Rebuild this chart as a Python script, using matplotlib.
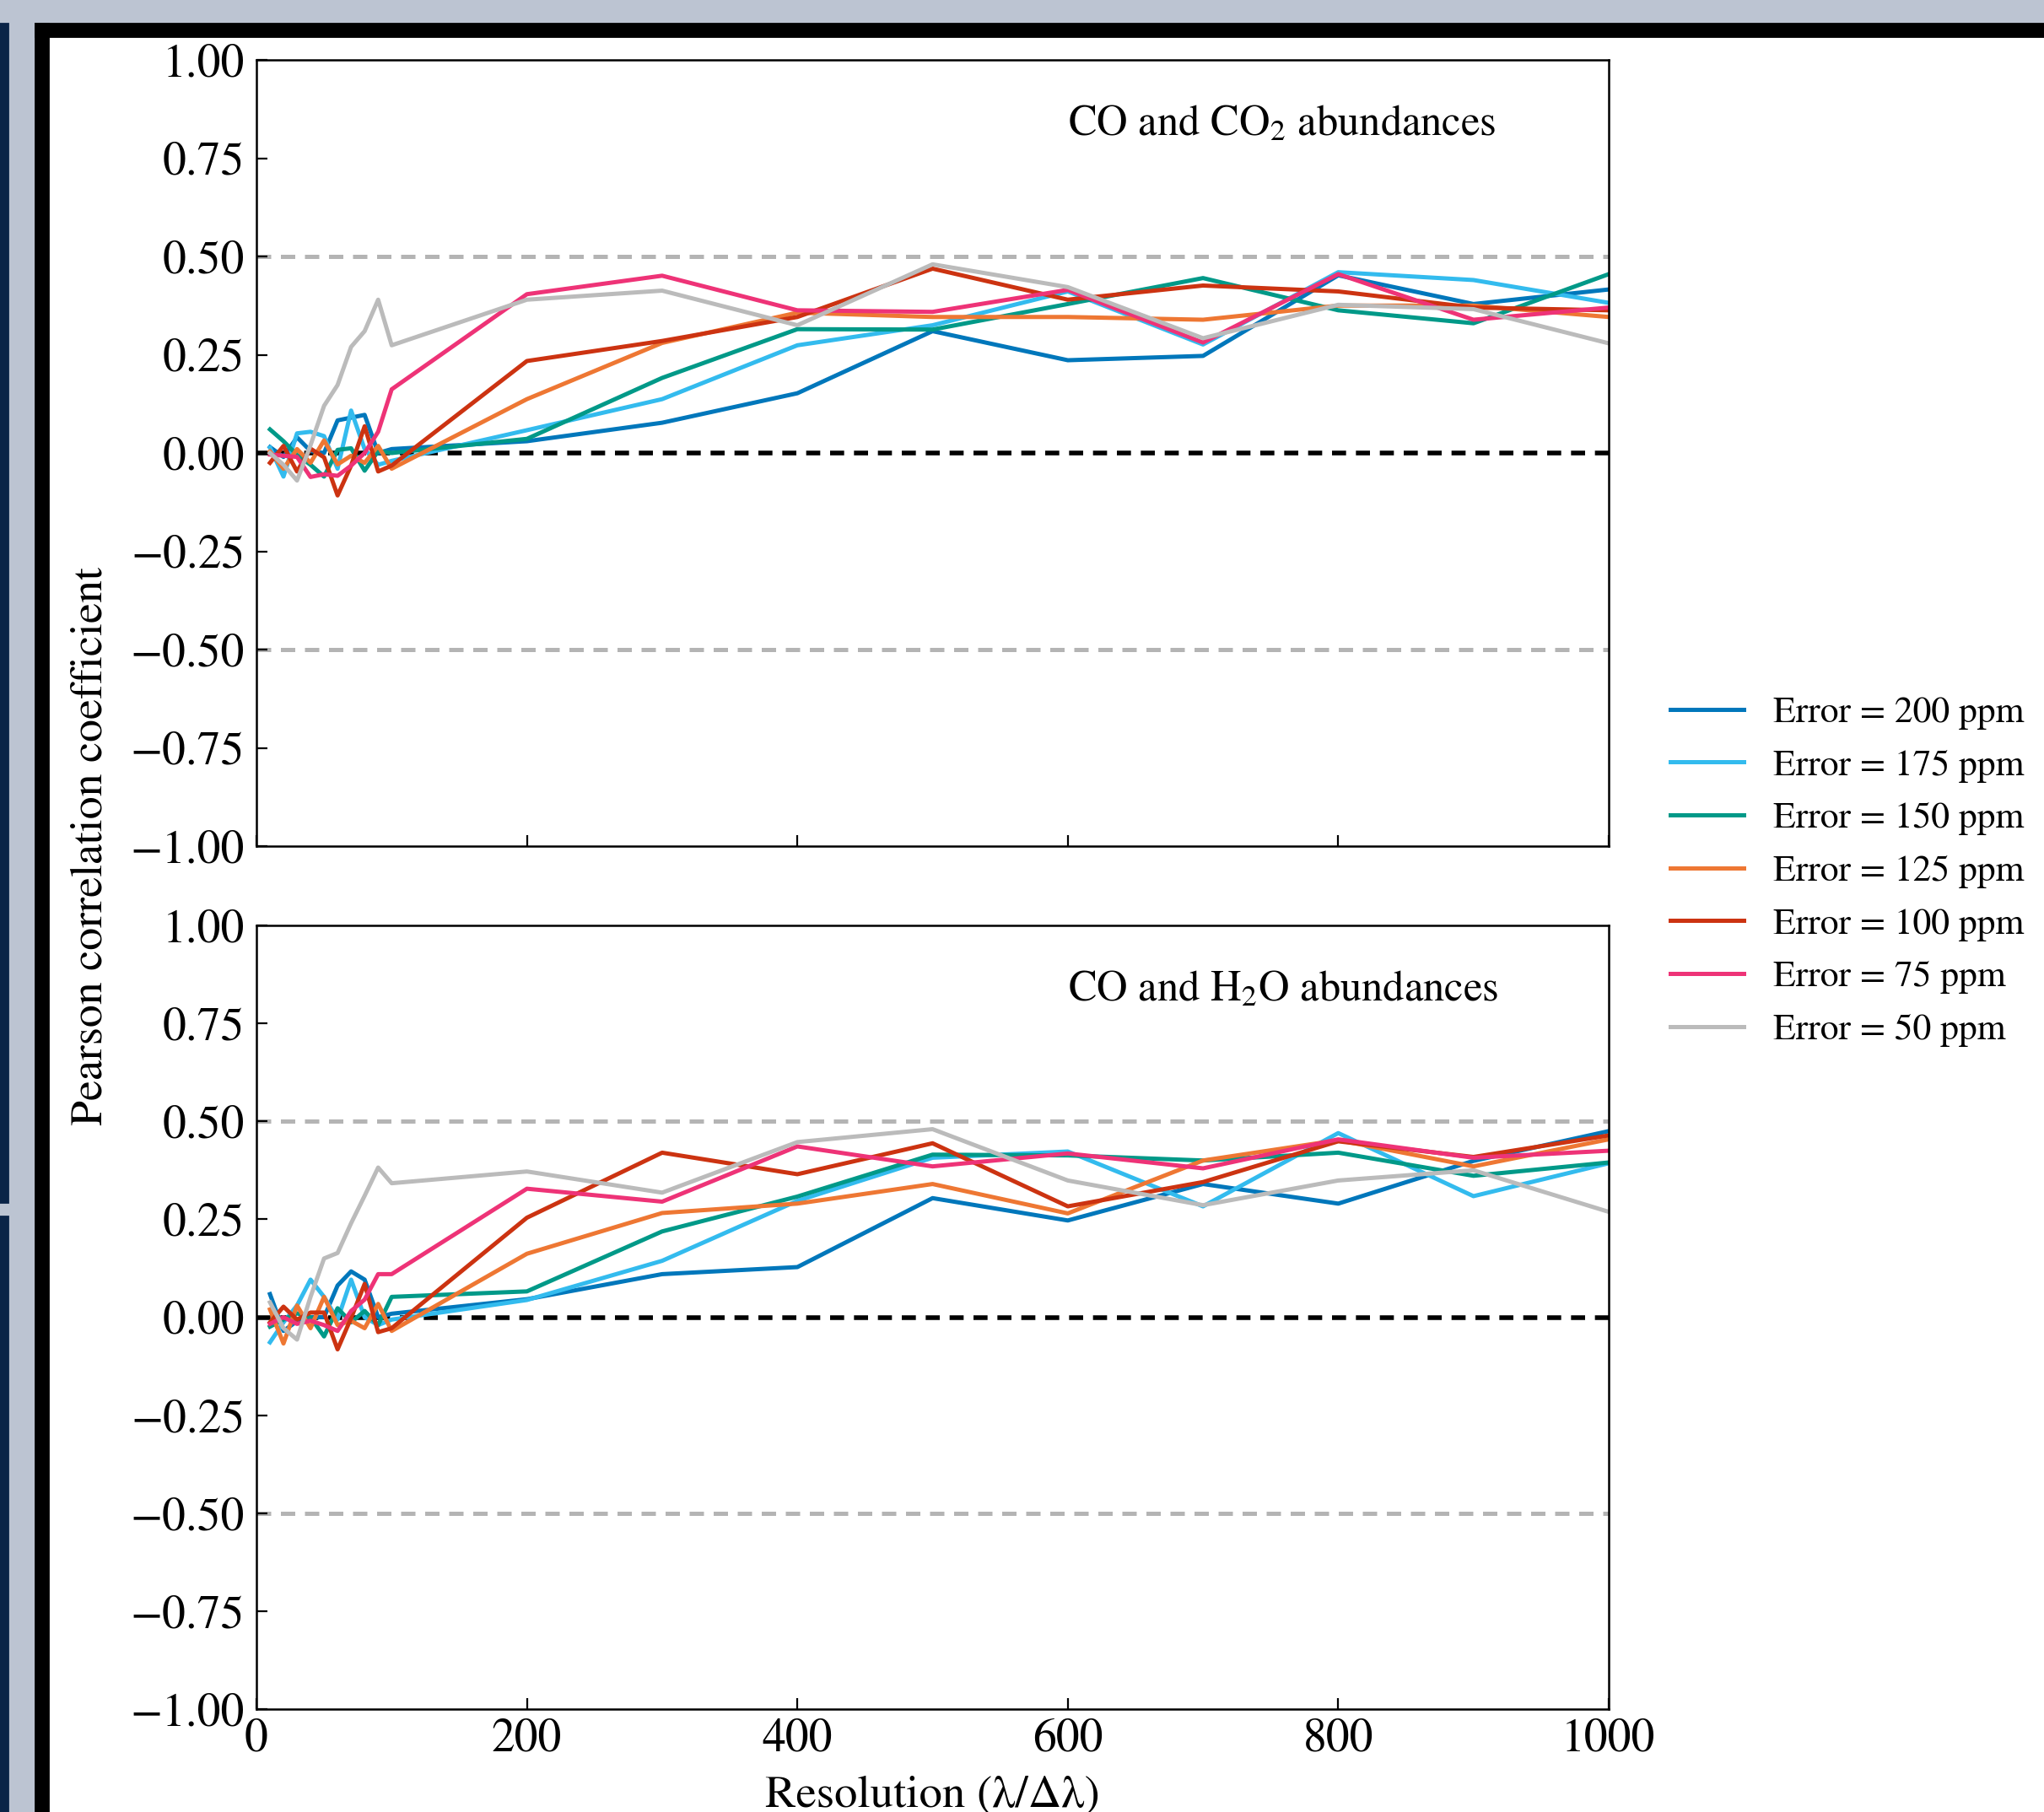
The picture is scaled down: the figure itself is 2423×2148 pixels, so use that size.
import matplotlib
matplotlib.use("Agg")
import matplotlib.pyplot as plt
from matplotlib.patches import Rectangle

plt.rcParams['font.family'] = 'STIXGeneral'
plt.rcParams['mathtext.fontset'] = 'stix'

# ---------------------------- data ----------------------------
resolution = [10, 20, 30, 40, 50, 60, 70, 80, 90, 100,
              200, 300, 400, 500, 600, 700, 800, 900, 1000]

error_labels = ['Error = 200 ppm', 'Error = 175 ppm', 'Error = 150 ppm',
                'Error = 125 ppm', 'Error = 100 ppm', 'Error = 75 ppm',
                'Error = 50 ppm']
colors = ['#0077BB', '#33BBEE', '#009988', '#EE7733', '#CC3311', '#EE3377', '#BBBBBB']

# CO and CO2
co2_200 = [0.015, -0.01, 0.04, 0.005, 0.0, 0.083, 0.09, 0.097, 0.0, 0.01,
           0.03, 0.077, 0.152, 0.31, 0.236, 0.247, 0.452, 0.379, 0.416]
co2_175 = [0.014, -0.06, 0.05, 0.054, 0.043, -0.04, 0.108, 0.01, -0.03, -0.02,
           0.058, 0.137, 0.274, 0.325, 0.411, 0.276, 0.46, 0.44, 0.382]
co2_150 = [0.06, 0.03, -0.005, -0.03, -0.06, 0.008, 0.012, -0.045, 0.005, 0.0,
           0.036, 0.191, 0.315, 0.314, 0.379, 0.445, 0.363, 0.33, 0.455]
co2_125 = [0.004, -0.04, 0.01, -0.025, 0.032, -0.029, -0.007, -0.025, 0.018, -0.04,
           0.137, 0.28, 0.357, 0.346, 0.346, 0.339, 0.375, 0.375, 0.346]
co2_100 = [-0.025, 0.018, -0.047, 0.011, -0.011, -0.108, -0.032, 0.068, -0.047, -0.032,
           0.234, 0.285, 0.346, 0.469, 0.39, 0.426, 0.411, 0.37, 0.363]
co2_75 = [-0.004, -0.007, -0.01, -0.061, -0.054, -0.058, -0.032, 0.0, 0.054, 0.162,
          0.404, 0.451, 0.363, 0.359, 0.415, 0.281, 0.455, 0.339, 0.37]
co2_50 = [0.0, -0.03, -0.07, 0.02, 0.12, 0.173, 0.27, 0.31, 0.39, 0.274,
          0.39, 0.413, 0.325, 0.48, 0.422, 0.292, 0.377, 0.366, 0.279]

# CO and H2O
h2o_200 = [0.059, -0.035, -0.01, 0.0, 0.0, 0.081, 0.117, 0.096, 0.0, 0.009,
           0.046, 0.11, 0.128, 0.304, 0.247, 0.34, 0.29, 0.399, 0.475]
h2o_175 = [-0.064, -0.013, 0.03, 0.096, 0.052, -0.006, 0.096, 0.0, -0.02, -0.006,
           0.044, 0.144, 0.297, 0.407, 0.423, 0.283, 0.47, 0.309, 0.393]
h2o_150 = [-0.024, -0.006, 0.01, 0.0, -0.049, 0.023, -0.013, 0.016, -0.02, 0.052,
           0.066, 0.219, 0.308, 0.415, 0.413, 0.40, 0.42, 0.361, 0.395]
h2o_125 = [0.02, -0.067, 0.03, -0.028, 0.052, -0.02, -0.009, -0.028, 0.034, -0.035,
           0.162, 0.266, 0.29, 0.34, 0.265, 0.40, 0.452, 0.385, 0.454]
h2o_100 = [-0.013, 0.027, -0.006, 0.012, 0.012, -0.082, -0.002, 0.085, -0.038, -0.028,
           0.254, 0.42, 0.365, 0.444, 0.283, 0.345, 0.449, 0.409, 0.464]
h2o_75 = [-0.017, 0.0, -0.017, -0.009, -0.02, -0.035, 0.016, 0.045, 0.11, 0.11,
          0.328, 0.295, 0.436, 0.385, 0.418, 0.38, 0.454, 0.407, 0.425]
h2o_50 = [0.038, -0.028, -0.057, 0.052, 0.15, 0.164, 0.24, 0.31, 0.382, 0.342,
          0.372, 0.318, 0.447, 0.48, 0.349, 0.286, 0.349, 0.375, 0.269]

co2_series = [co2_200, co2_175, co2_150, co2_125, co2_100, co2_75, co2_50]
h2o_series = [h2o_200, h2o_175, h2o_150, h2o_125, h2o_100, h2o_75, h2o_50]

# ---------------------------- figure ----------------------------
W, H = 2423, 2148
fig = plt.figure(figsize=(W / 200, H / 200), dpi=200)
fig.patch.set_facecolor('#BCC4D2')


def px_rect(x0, y0, x1, y1, color):
    # rectangle given in pixel coords measured from top-left
    fig.patches.append(Rectangle((x0 / W, 1 - y1 / H), (x1 - x0) / W, (y1 - y0) / H,
                                 transform=fig.transFigure, color=color, zorder=-10))


# screenshot frame
px_rect(57, 43, W, H, 'white')
px_rect(42, 28, W, 43, 'black')
px_rect(42, 28, 57, H, 'black')
px_rect(0, 28, 9, 1425, '#0A2447')
px_rect(0, 1442, 9, H, '#0A2447')

ax1 = fig.add_axes([304 / W, 1 - 1003 / H, 1603 / W, 932 / H])
ax2 = fig.add_axes([304 / W, 1 - 2026 / H, 1603 / W, 929 / H])

titles = ['CO and CO$_2$ abundances', 'CO and H$_2$O abundances']

for ax, series, title in zip([ax1, ax2], [co2_series, h2o_series], titles):
    ax.axhline(0.5, color='#B4B4B4', lw=1.8, dashes=[3.4, 2.3], zorder=1)
    ax.axhline(-0.5, color='#B4B4B4', lw=1.8, dashes=[3.4, 2.3], zorder=1)
    ax.axhline(0.0, color='black', lw=2.0, dashes=[3.0, 2.1], zorder=1)
    for vals, c, lab in zip(series, colors, error_labels):
        ax.plot(resolution, vals, color=c, lw=1.8, label=lab, zorder=2)
    ax.set_xlim(0, 1000)
    ax.set_ylim(-1, 1)
    ax.set_yticks([-1, -0.75, -0.5, -0.25, 0, 0.25, 0.5, 0.75, 1])
    ax.set_xticks([0, 200, 400, 600, 800, 1000])
    ax.tick_params(direction='in', length=4.7, width=0.8, labelsize=20)
    ax.tick_params(axis='y', pad=5)
    ax.tick_params(axis='x', pad=4)
    for sp in ax.spines.values():
        sp.set_linewidth(0.9)
    ax.text(0.6, 0.918, title, transform=ax.transAxes, fontsize=18.2,
            ha='left', va='center')

ax1.tick_params(labelbottom=False)
ax2.set_xlabel('Resolution (λ/Δλ)', fontsize=19.7, labelpad=6)

fig.text(108 / W, 1 - 1003 / H, 'Pearson correlation coefficient', rotation=90,
         fontsize=19.4, ha='center', va='center')

handles, labels = ax1.get_legend_handles_labels()
fig.legend(handles, labels, loc='center left', bbox_to_anchor=(0.81, 0.519),
           frameon=False, fontsize=15.7, borderaxespad=0, labelspacing=0.53)

fig.savefig('out.png', dpi=200, facecolor=fig.get_facecolor())
